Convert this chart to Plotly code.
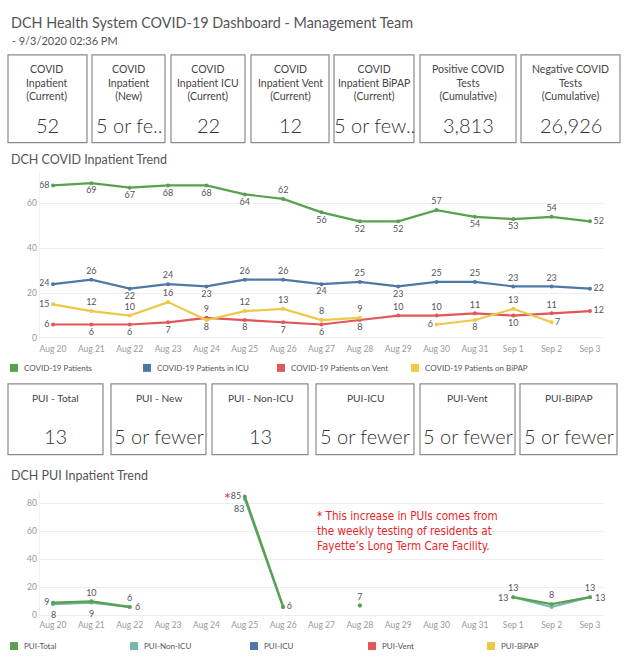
import plotly.graph_objects as go

W, H = 624, 665

# ---------------- data ----------------
dates = ["Aug 20", "Aug 21", "Aug 22", "Aug 23", "Aug 24", "Aug 25", "Aug 26", "Aug 27",
         "Aug 28", "Aug 29", "Aug 30", "Aug 31", "Sep 1", "Sep 2", "Sep 3"]
covid_patients = [68, 69, 67, 68, 68, 64, 62, 56, 52, 52, 57, 54, 53, 54, 52]
covid_icu = [24, 26, 22, 24, 23, 26, 26, 24, 25, 23, 25, 25, 23, 23, 22]
covid_vent = [6, 6, 6, 7, 9, 8, 7, 6, 8, 10, 10, 11, 10, 11, 12]
covid_bipap = [15, 12, 10, 16, 8, 12, 13, 8, 9, None, 6, 8, 13, 7, None]
pui_total = [9, 10, 6, None, None, 85, 6, None, 7, None, None, None, 13, 8, 13]
pui_nonicu = [8, 9, 6, None, None, 83, 6, None, 7, None, None, None, 13, 6, 13]

covid_names = ["COVID-19 Patients", "COVID-19 Patients in ICU",
               "COVID-19 Patients on Vent", "COVID-19 Patients on BiPAP"]
pui_names = ["PUI-Total", "PUI-Non-ICU", "PUI-ICU", "PUI-Vent", "PUI-BiPAP"]

kpi1_labels = ["COVID<br>Inpatient<br>(Current)", "COVID<br>Inpatient<br>(New)",
               "COVID<br>Inpatient ICU<br>(Current)", "COVID<br>Inpatient Vent<br>(Current)",
               "COVID<br>Inpatient BiPAP<br>(Current)", "Positive COVID<br>Tests<br>(Cumulative)",
               "Negative COVID<br>Tests<br>(Cumulative)"]
kpi1_values = ["52", "5 or fe..", "22", "12", "5 or few..", "3,813", "26,926"]
kpi2_labels = ["PUI - Total", "PUI - New", "PUI - Non-ICU", "PUI-ICU", "PUI-Vent", "PUI-BiPAP"]
kpi2_values = ["13", "5 or fewer", "13", "5 or fewer", "5 or fewer", "5 or fewer"]

# ---------------- styles ----------------
FONT = "Lato, 'Open Sans', sans-serif"
C_GREEN, C_BLUE, C_RED, C_YELLOW, C_TEAL = "#59a14f", "#4e79a7", "#e15759", "#edc948", "#76b7b2"
covid_colors = [C_GREEN, C_BLUE, C_RED, C_YELLOW]
pui_colors = [C_GREEN, C_TEAL, C_BLUE, C_RED, C_YELLOW]

POS = {"L": "middle left", "R": "middle right", "T": "top center", "B": "bottom center",
       "-": "top center"}
covid_labelpos = [
    "L B B B B B T B B B T B B T R".split(),
    "L T B T B T T B T B T T T T R".split(),
    "L B B B T B B B B T T T B T R".split(),
    "L T T T B T T T T - L B T R -".split(),
]
pui_labelpos = [
    "L T T - - L R - T - - - T T T".split(),
    "B B R - - BL - - - - - - L - R".split(),
]
# annotation anchoring for label codes: (xanchor, yanchor, xshift, yshift)
ANCH = {"L": ("right", "middle", -3, 0), "R": ("left", "middle", 3, 0),
        "T": ("center", "bottom", 0, 3), "B": ("center", "top", 0, -3),
        "BL": ("right", "top", 1, -2)}


def px(x):
    return x / W


def py(y):
    return 1 - y / H


fig = go.Figure()


def add_series(vals, name, color, posl, xa, ya, width=2.2):
    text = ["" if (v is None or p == "-") else str(v) for v, p in zip(vals, posl)]
    fig.add_trace(go.Scatter(
        x=dates, y=vals, name=name, mode="lines+markers+text",
        line=dict(color=color, width=width), marker=dict(color=color, size=4),
        text=text, textposition=[POS[p] for p in posl],
        textfont=dict(family=FONT, size=9, color="#555"),
        xaxis=xa, yaxis=ya, showlegend=False, cliponaxis=False, connectgaps=False))


# PUI: non-ICU line under total
add_series(pui_nonicu, pui_names[1], C_TEAL, ["-"] * len(dates), "x2", "y2", 2)
add_series(pui_total, pui_names[0], C_GREEN, pui_labelpos[0], "x2", "y2", 2.4)

for vals, name, col, pl in zip([covid_patients, covid_icu, covid_vent, covid_bipap],
                               covid_names, covid_colors, covid_labelpos):
    add_series(vals, name, col, pl, "x", "y")

axis_common = dict(showgrid=False, zeroline=False, showline=False, ticks="",
                   tickfont=dict(family=FONT, size=8.5, color="#999"), type="category",
                   range=[-0.35, 14.35], fixedrange=True)
yaxis_common = dict(showgrid=True, gridcolor="#eeeeee", gridwidth=1, zeroline=False,
                    showline=True, linecolor="#f0f0f0", ticks="",
                    tickfont=dict(family=FONT, size=8.5, color="#999"))

fig.update_layout(
    width=W, height=H, margin=dict(l=0, r=0, t=0, b=0),
    paper_bgcolor="white", plot_bgcolor="white",
    xaxis=dict(domain=[px(39.6), px(603.4)], anchor="y", **axis_common),
    yaxis=dict(domain=[py(343.5), py(172.5)], range=[-2, 74], tickvals=[0, 20, 40, 60],
               anchor="x", **yaxis_common),
    xaxis2=dict(domain=[px(39.6), px(603.4)], anchor="y2", **axis_common),
    yaxis2=dict(domain=[py(620), py(491)], range=[-2, 90], tickvals=[0, 20, 40, 60, 80],
                anchor="x2", **yaxis_common),
)

shapes = []
annots = []

# non-ICU value labels, placed through the chart's own axes
for d, v, p in zip(dates, pui_nonicu, pui_labelpos[1]):
    if v is None or p == "-":
        continue
    xa, ya, xs, ys = ANCH[p]
    annots.append(dict(text=str(v), xref="x2", yref="y2", x=d, y=v, xanchor=xa, yanchor=ya,
                       xshift=xs, yshift=ys, showarrow=False,
                       font=dict(family=FONT, size=9, color="#555")))


def note(text, x, y, size, color="#555", xanchor="left", yanchor="middle", family=FONT,
         align="left", weight=None):
    f = dict(family=family, size=size, color=color)
    if weight:
        f["weight"] = weight
    annots.append(dict(text=text, xref="paper", yref="paper", x=px(x), y=py(y), xanchor=xanchor,
                       yanchor=yanchor, showarrow=False, align=align, font=f))


# Titles
note("DCH Health System COVID-19 Dashboard - Management Team", 9, 23, 14.4, "#555")
note(" - 9/3/2020 02:36 PM", 7, 41, 11, "#555")
note("DCH COVID Inpatient Trend", 9, 160, 12.5)
note("DCH PUI Inpatient Trend", 9, 477, 12.5)

# KPI row 1
box1_x = [(8, 87), (92, 165), (171, 245), (251, 329), (334, 414), (420, 516), (521, 620)]
for (x0, x1), lab, val in zip(box1_x, kpi1_labels, kpi1_values):
    shapes.append(dict(type="rect", xref="paper", yref="paper", x0=px(x0), x1=px(x1),
                       y0=py(143), y1=py(55), line=dict(color="#8a8a8a", width=1.2)))
    note(lab, (x0 + x1) / 2, 83, 10.5, "#444", xanchor="center", align="center")
    note(val, (x0 + x1) / 2, 125, 20, "#333", xanchor="center", align="center", weight=300)

# KPI row 2
box2_x = [(8, 103), (111, 206), (212, 308), (316, 414), (420, 515), (520, 617)]
for (x0, x1), lab, val in zip(box2_x, kpi2_labels, kpi2_values):
    shapes.append(dict(type="rect", xref="paper", yref="paper", x0=px(x0), x1=px(x1),
                       y0=py(456), y1=py(385), line=dict(color="#8a8a8a", width=1.2)))
    note(lab, (x0 + x1) / 2, 399, 10.2, "#444", xanchor="center", align="center")
    note(val, (x0 + x1) / 2, 437, 20, "#333", xanchor="center", align="center", weight=300)

# Legends
leg1_x = [10, 143, 277, 411]
for x, name, col in zip(leg1_x, covid_names, covid_colors):
    shapes.append(dict(type="rect", xref="paper", yref="paper", x0=px(x), x1=px(x + 8),
                       y0=py(373), y1=py(365), fillcolor=col, line=dict(width=0)))
    note(name, x + 12, 369, 8)
leg2_x = [10, 130, 250, 368, 487]
for x, name, col in zip(leg2_x, pui_names, pui_colors):
    shapes.append(dict(type="rect", xref="paper", yref="paper", x0=px(x), x1=px(x + 8),
                       y0=py(652), y1=py(644), fillcolor=col, line=dict(width=0)))
    note(name, x + 12, 648, 8)

# Red note
note("*", 227, 499, 16, "#e8262a", xanchor="center")
note("* This increase in PUIs comes from<br>the weekly testing of residents at<br>Fayette\u2019s Long Term Care Facility.",
     315, 509, 11.6, "#e8262a", yanchor="top",
     family="'Liberation Sans Narrow', 'DejaVu Sans Condensed', sans-serif")

fig.update_layout(shapes=shapes, annotations=annots)
fig.write_html("out.html", config={"displayModeBar": False},
               post_script="document.body.style.margin='0';")
